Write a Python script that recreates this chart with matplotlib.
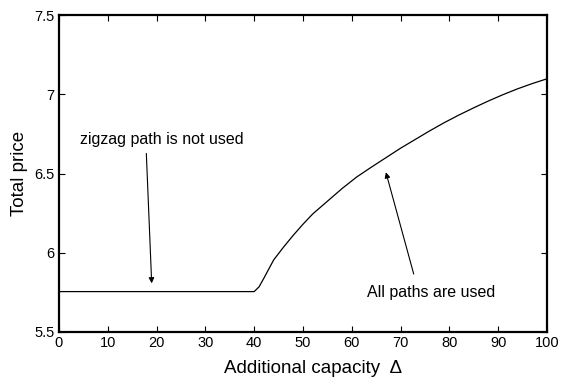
import matplotlib
matplotlib.use('Agg')
import matplotlib.pyplot as plt

plt.rcParams['font.family'] = ['Liberation Sans', 'DejaVu Sans']

# additional capacity vs total price
capacity = [0, 40, 41, 42, 44, 46, 48, 50, 52, 55, 58, 61, 64, 67, 70,
            73, 76, 79, 82, 85, 88, 91, 94, 97, 100]
price = [5.755, 5.755, 5.785, 5.84, 5.955, 6.035, 6.11, 6.18, 6.245, 6.325,
         6.405, 6.478, 6.54, 6.6, 6.66, 6.715, 6.77, 6.822, 6.87, 6.915,
         6.958, 6.998, 7.035, 7.068, 7.098]

xticks = [0, 10, 20, 30, 40, 50, 60, 70, 80, 90, 100]
yticks = [5.5, 6, 6.5, 7, 7.5]
yticklabels = ['5.5', '6', '6.5', '7', '7.5']

fig = plt.figure(figsize=(5.65, 3.78), dpi=100)
ax = fig.add_axes([0.1044, 0.1217, 0.8636, 0.8383])

ax.plot(capacity, price, color='black', lw=0.9)

ax.set_xlim(0, 100)
ax.set_ylim(5.5, 7.5)
ax.set_xticks(xticks)
ax.set_yticks(yticks)
ax.set_yticklabels(yticklabels)
ax.tick_params(direction='in', top=True, right=True, length=4, width=0.8,
               labelsize=10.5, pad=3)
for sp in ax.spines.values():
    sp.set_linewidth(1.6)

ax.set_xlabel('Additional capacity  \u0394', fontsize=13.5, labelpad=7)
ax.xaxis.label.set_x(0.52)
ax.set_ylabel('Total price', fontsize=13.5, labelpad=5)

arrow = dict(arrowstyle='-|>', color='black', lw=0.8, mutation_scale=8,
             shrinkA=0, shrinkB=0)
ax.text(21.0, 6.715, 'zigzag path is not used', fontsize=11.5,
        ha='center', va='center')
ax.annotate('', xy=(19.0, 5.807), xytext=(17.9, 6.627), arrowprops=arrow)

ax.text(76.2, 5.75, 'All paths are used', fontsize=11.5,
        ha='center', va='center')
ax.annotate('', xy=(67.0, 6.508), xytext=(72.7, 5.866), arrowprops=arrow)

fig.savefig('out.png', dpi=100)
